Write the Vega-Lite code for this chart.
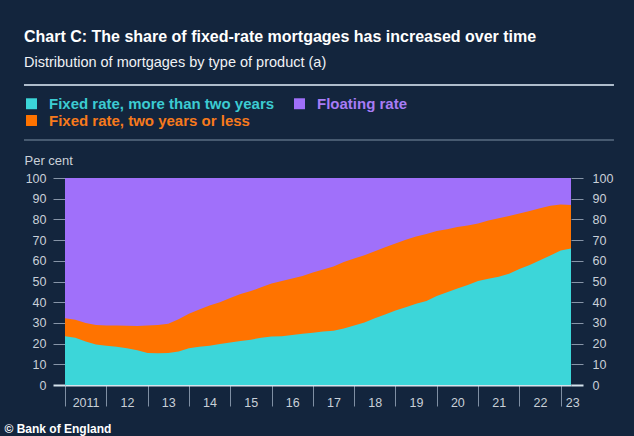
{
  "$schema": "https://vega.github.io/schema/vega-lite/v6.json",
  "width": 506,
  "height": 207,
  "autosize": {"type": "none"},
  "padding": {"left": 65, "top": 178, "right": 63, "bottom": 51},
  "background": "#13253d",
  "config": {"view": {"stroke": null}, "font": "Liberation Sans"},
  "title": {
    "text": "Chart C: The share of fixed-rate mortgages has increased over time",
    "subtitle": "Distribution of mortgages by type of product (a)",
    "anchor": "start",
    "frame": "group",
    "dx": -41,
    "offset": 15,
    "font": "Liberation Sans",
    "fontSize": 16,
    "fontWeight": "bold",
    "color": "#ffffff",
    "subtitleFont": "Liberation Sans",
    "subtitleFontSize": 14.5,
    "subtitleColor": "#f0f2f5",
    "subtitlePadding": 11
  },
  "data": {
    "values": [
      {"year": 2011.00, "fixed_over_2y": 23.5, "fixed_total": 32.2},
      {"year": 2011.25, "fixed_over_2y": 22.8, "fixed_total": 31.5},
      {"year": 2011.50, "fixed_over_2y": 21.0, "fixed_total": 30.0},
      {"year": 2011.75, "fixed_over_2y": 19.6, "fixed_total": 29.0},
      {"year": 2012.00, "fixed_over_2y": 19.0, "fixed_total": 28.7},
      {"year": 2012.25, "fixed_over_2y": 18.5, "fixed_total": 28.7},
      {"year": 2012.50, "fixed_over_2y": 17.8, "fixed_total": 28.6},
      {"year": 2012.75, "fixed_over_2y": 16.8, "fixed_total": 28.5},
      {"year": 2013.00, "fixed_over_2y": 15.5, "fixed_total": 28.7},
      {"year": 2013.25, "fixed_over_2y": 15.3, "fixed_total": 29.0},
      {"year": 2013.50, "fixed_over_2y": 15.4, "fixed_total": 29.6},
      {"year": 2013.75, "fixed_over_2y": 16.2, "fixed_total": 31.8},
      {"year": 2014.00, "fixed_over_2y": 17.8, "fixed_total": 34.4},
      {"year": 2014.25, "fixed_over_2y": 18.5, "fixed_total": 36.5},
      {"year": 2014.50, "fixed_over_2y": 19.0, "fixed_total": 38.4},
      {"year": 2014.75, "fixed_over_2y": 19.8, "fixed_total": 40.0},
      {"year": 2015.00, "fixed_over_2y": 20.5, "fixed_total": 42.0},
      {"year": 2015.25, "fixed_over_2y": 21.3, "fixed_total": 44.0},
      {"year": 2015.50, "fixed_over_2y": 21.9, "fixed_total": 45.4},
      {"year": 2015.75, "fixed_over_2y": 22.8, "fixed_total": 47.2},
      {"year": 2016.00, "fixed_over_2y": 23.4, "fixed_total": 49.0},
      {"year": 2016.25, "fixed_over_2y": 23.5, "fixed_total": 50.2},
      {"year": 2016.50, "fixed_over_2y": 24.2, "fixed_total": 51.5},
      {"year": 2016.75, "fixed_over_2y": 24.7, "fixed_total": 52.6},
      {"year": 2017.00, "fixed_over_2y": 25.3, "fixed_total": 54.4},
      {"year": 2017.25, "fixed_over_2y": 25.8, "fixed_total": 55.8},
      {"year": 2017.50, "fixed_over_2y": 26.2, "fixed_total": 57.2},
      {"year": 2017.75, "fixed_over_2y": 27.3, "fixed_total": 59.4},
      {"year": 2018.00, "fixed_over_2y": 28.7, "fixed_total": 61.1},
      {"year": 2018.25, "fixed_over_2y": 30.2, "fixed_total": 62.7},
      {"year": 2018.50, "fixed_over_2y": 32.2, "fixed_total": 64.6},
      {"year": 2018.75, "fixed_over_2y": 34.0, "fixed_total": 66.6},
      {"year": 2019.00, "fixed_over_2y": 36.0, "fixed_total": 68.4},
      {"year": 2019.25, "fixed_over_2y": 37.6, "fixed_total": 70.2},
      {"year": 2019.50, "fixed_over_2y": 39.2, "fixed_total": 71.7},
      {"year": 2019.75, "fixed_over_2y": 40.6, "fixed_total": 73.0},
      {"year": 2020.00, "fixed_over_2y": 43.0, "fixed_total": 74.4},
      {"year": 2020.25, "fixed_over_2y": 44.8, "fixed_total": 75.3},
      {"year": 2020.50, "fixed_over_2y": 46.6, "fixed_total": 76.3},
      {"year": 2020.75, "fixed_over_2y": 48.3, "fixed_total": 77.1},
      {"year": 2021.00, "fixed_over_2y": 50.2, "fixed_total": 78.0},
      {"year": 2021.25, "fixed_over_2y": 51.3, "fixed_total": 79.5},
      {"year": 2021.50, "fixed_over_2y": 52.3, "fixed_total": 80.5},
      {"year": 2021.75, "fixed_over_2y": 53.8, "fixed_total": 81.6},
      {"year": 2022.00, "fixed_over_2y": 56.0, "fixed_total": 82.9},
      {"year": 2022.25, "fixed_over_2y": 58.0, "fixed_total": 84.1},
      {"year": 2022.50, "fixed_over_2y": 60.3, "fixed_total": 85.4},
      {"year": 2022.75, "fixed_over_2y": 62.6, "fixed_total": 86.6},
      {"year": 2023.00, "fixed_over_2y": 65.0, "fixed_total": 87.2},
      {"year": 2023.25, "fixed_over_2y": 66.0, "fixed_total": 87.0}
    ]
  },
  "layer": [
    {
      "mark": {"type": "area"},
      "encoding": {
        "x": {
          "field": "year",
          "type": "quantitative",
          "scale": {"domain": [2011, 2023.25], "nice": false, "zero": false},
          "axis": {
            "values": [2011, 2012, 2013, 2014, 2015, 2016, 2017, 2018, 2019, 2020, 2021, 2022, 2023],
            "grid": false,
            "tickSize": 21,
            "tickColor": "#7f8fa3",
            "tickWidth": 1,
            "domain": true,
            "domainColor": "#d5e3ec",
            "domainWidth": 2,
            "labelExpr": "datum.value == 2011 ? '2011' : substring(toString(datum.value), 2, 4)",
            "labelOffset": {"condition": {"test": "datum.value == 2023", "value": 11.5}, "value": 20.6},
            "labelPadding": -10,
            "labelFont": "Liberation Sans",
            "labelFontSize": 12.5,
            "labelColor": "#c9d0d8",
            "labelFlush": false,
            "labelOverlap": false,
            "labelBound": false,
            "title": "© Bank of England",
            "titleAnchor": "start",
            "titleAlign": "left",
            "titleBaseline": "middle",
            "titleX": -61,
            "titleY": 43,
            "titleFont": "Liberation Sans",
            "titleFontSize": 12,
            "titleFontWeight": "bold",
            "titleColor": "#ffffff"
          }
        },
        "y": {
          "datum": 100,
          "type": "quantitative",
          "stack": null,
          "scale": {"domain": [0, 100], "nice": false},
          "axis": {
            "orient": "left",
            "values": [0, 10, 20, 30, 40, 50, 60, 70, 80, 90, 100],
            "grid": false,
            "domain": false,
            "tickSize": 12,
            "tickColor": {"condition": {"test": "datum.value == 0", "value": "#d5e3ec"}, "value": "#8795a8"},
            "tickWidth": {"condition": {"test": "datum.value == 0", "value": 2}, "value": 1},
            "labelPadding": 7,
            "labelFont": "Liberation Sans",
            "labelFontSize": 12.5,
            "labelColor": "#c9d0d8",
            "labelFlush": false,
            "title": "Per cent",
            "titleAngle": 0,
            "titleAlign": "left",
            "titleBaseline": "middle",
            "titleX": -41,
            "titleY": -18,
            "titleFont": "Liberation Sans",
            "titleFontSize": 13,
            "titleFontWeight": "normal",
            "titleColor": "#c9d0d8"
          }
        },
        "color": {
          "datum": "Floating rate",
          "scale": {
            "domain": ["Fixed rate, more than two years", "Floating rate", "Fixed rate, two years or less"],
            "range": ["#3cd6d9", "#a070fa", "#ff7300"]
          },
          "legend": {
            "orient": "none",
            "legendX": -41,
            "legendY": -82,
            "direction": "horizontal",
            "columns": 2,
            "title": null,
            "padding": 0,
            "symbolType": "square",
            "symbolSize": 120,
            "symbolStrokeWidth": 0,
            "symbolOpacity": 1,
            "labelFont": "Liberation Sans",
            "labelFontSize": 15,
            "labelFontWeight": "bold",
            "labelOffset": 10,
            "labelLimit": 400,
            "columnPadding": 17,
            "rowPadding": 1,
            "encoding": {
              "labels": {
                "fill": {
                  "condition": [
                    {"test": "datum.value == 'Floating rate'", "value": "#a77cf6"},
                    {"test": "datum.value == 'Fixed rate, two years or less'", "value": "#f77a1c"}
                  ],
                  "value": "#3ccbd2"
                }
              }
            }
          }
        }
      }
    },
    {
      "mark": {"type": "area"},
      "encoding": {
        "x": {"field": "year", "type": "quantitative"},
        "y": {"field": "fixed_total", "type": "quantitative", "stack": null, "axis": null},
        "color": {"datum": "Fixed rate, two years or less"}
      }
    },
    {
      "mark": {"type": "area"},
      "encoding": {
        "x": {"field": "year", "type": "quantitative"},
        "y": {
          "field": "fixed_over_2y",
          "type": "quantitative",
          "stack": null,
          "axis": {
            "orient": "right",
            "values": [0, 10, 20, 30, 40, 50, 60, 70, 80, 90, 100],
            "grid": false,
            "domain": false,
            "tickSize": 12,
            "tickColor": {"condition": {"test": "datum.value == 0", "value": "#d5e3ec"}, "value": "#8795a8"},
            "tickWidth": {"condition": {"test": "datum.value == 0", "value": 2}, "value": 1},
            "labelPadding": 9,
            "labelFont": "Liberation Sans",
            "labelFontSize": 12.5,
            "labelColor": "#c9d0d8",
            "labelFlush": false,
            "title": null
          }
        },
        "color": {"datum": "Fixed rate, more than two years"}
      }
    },
    {
      "data": {"values": [{}]},
      "mark": {"type": "rule", "color": "#aebccb", "strokeWidth": 2},
      "encoding": {
        "x": {"datum": 2010.007, "type": "quantitative"},
        "x2": {"datum": 2024.29},
        "y": {"datum": 144.9, "type": "quantitative", "axis": null}
      }
    },
    {
      "data": {"values": [{}]},
      "mark": {"type": "rule", "color": "#5a6c82", "strokeWidth": 1.5},
      "encoding": {
        "x": {"datum": 2010.007, "type": "quantitative"},
        "x2": {"datum": 2024.29},
        "y": {"datum": 118.4, "type": "quantitative", "axis": null}
      }
    }
  ],
  "resolve": {"axis": {"y": "independent"}}
}
